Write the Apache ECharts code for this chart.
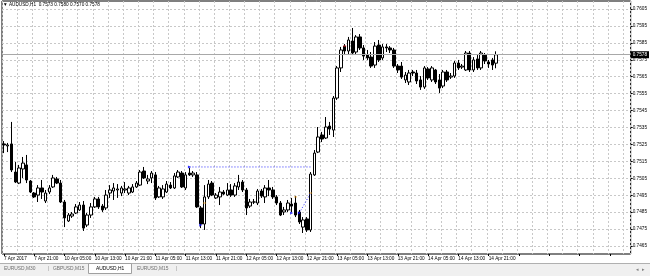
<!DOCTYPE html>
<html><head><meta charset="utf-8">
<script src="https://cdn.jsdelivr.net/npm/echarts@6/dist/echarts.min.js"></script>
<style>html,body{margin:0;padding:0;background:#fff;overflow:hidden}#c{width:650px;height:276px}</style>
</head><body><div id="c"></div>
<script>
const symbolName = 'AUDUSD,H1';
const headerValues = ['0.7573', '0.7580', '0.7570', '0.7578'];
const timeTickLabels = ['7 Apr 2017','7 Apr 21:00','10 Apr 05:00','10 Apr 13:00','10 Apr 21:00','11 Apr 05:00','11 Apr 13:00','11 Apr 21:00','12 Apr 05:00','12 Apr 13:00','12 Apr 21:00','13 Apr 05:00','13 Apr 13:00','13 Apr 21:00','14 Apr 05:00','14 Apr 13:00','14 Apr 21:00'];
const priceTicks = [0.7465,0.7475,0.7485,0.7495,0.7505,0.7515,0.7525,0.7535,0.7545,0.7555,0.7565,0.7575,0.7585,0.7595,0.7605];
const bidPrice = 0.7578;
const tabNames = ['EURUSD,M30','GBPUSD,M15','AUDUSD,H1','EURUSD,M15'];
const activeTab = 'AUDUSD,H1';

const opens = [0.75253,0.75241,0.75253,0.75087,0.75022,0.75105,0.75129,0.75034,0.74963,0.74951,
0.74993,0.74916,0.74969,0.74999,0.75046,0.75022,0.74910,0.74798,0.74827,0.74845,
0.74863,0.74892,0.74774,0.74833,0.74881,0.74928,0.74886,0.74875,0.74963,0.74975,
0.74981,0.74963,0.74981,0.74963,0.74969,0.74999,0.75010,0.75093,0.75034,0.75052,
0.75070,0.74940,0.74940,0.74969,0.75010,0.74993,0.75058,0.75081,0.74993,0.75081,
0.75070,0.75070,0.74875,0.74780,0.74940,0.75022,0.74934,0.74940,0.74969,0.74951,
0.74981,0.74951,0.74999,0.75028,0.74981,0.74886,0.74910,0.74904,0.74975,0.74940,
0.74993,0.74981,0.74940,0.74904,0.74851,0.74863,0.74898,0.74904,0.74851,0.74762,
0.74810,0.74745,0.75070,0.75205,0.75306,0.75288,0.75359,0.75335,0.75524,0.75702,
0.75831,0.75802,0.75861,0.75796,0.75885,0.75820,0.75778,0.75766,0.75719,0.75837,
0.75761,0.75826,0.75820,0.75808,0.75713,0.75713,0.75631,0.75619,0.75678,0.75672,
0.75631,0.75589,0.75696,0.75631,0.75690,0.75631,0.75595,0.75678,0.75648,0.75654,
0.75731,0.75707,0.75690,0.75790,0.75690,0.75755,0.75702,0.75778,0.75737,0.75749,
0.7573];
const highs = [0.75270,0.75259,0.75383,0.75146,0.75129,0.75176,0.75188,0.75040,0.74969,0.75010,
0.75040,0.74981,0.75010,0.75070,0.75058,0.75040,0.74922,0.74845,0.74851,0.74898,
0.74910,0.74916,0.74845,0.74904,0.74940,0.74940,0.74898,0.74981,0.75010,0.75022,
0.75016,0.75005,0.75028,0.75005,0.75016,0.75034,0.75099,0.75117,0.75070,0.75093,
0.75087,0.75005,0.75010,0.75034,0.75028,0.75081,0.75099,0.75093,0.75087,0.75111,
0.75093,0.75087,0.74886,0.75010,0.75040,0.75034,0.74963,0.74999,0.74981,0.75022,
0.75016,0.75022,0.75070,0.75040,0.74993,0.74928,0.74928,0.74987,0.74987,0.75010,
0.75040,0.74999,0.74951,0.74916,0.74881,0.74922,0.74934,0.74945,0.74863,0.74821,
0.74821,0.75087,0.75217,0.75353,0.75324,0.75412,0.75383,0.75536,0.75713,0.75826,
0.75843,0.75885,0.75938,0.75896,0.75902,0.75837,0.75808,0.75796,0.75855,0.75867,
0.75843,0.75843,0.75831,0.75820,0.75725,0.75737,0.75678,0.75690,0.75690,0.75690,
0.75654,0.75713,0.75707,0.75713,0.75696,0.75666,0.75690,0.75690,0.75672,0.75743,
0.75749,0.75725,0.75802,0.75802,0.75766,0.75778,0.75802,0.75790,0.75749,0.75761,
0.7580];
const lows = [0.75199,0.75205,0.75087,0.75022,0.75016,0.75052,0.75022,0.74963,0.74934,0.74910,
0.74928,0.74904,0.74957,0.74993,0.75016,0.74904,0.74762,0.74792,0.74816,0.74839,
0.74857,0.74739,0.74762,0.74816,0.74875,0.74869,0.74851,0.74863,0.74934,0.74922,
0.74934,0.74945,0.74963,0.74951,0.74963,0.74993,0.75005,0.75046,0.75016,0.75022,
0.74922,0.74934,0.74928,0.74963,0.74987,0.74987,0.75052,0.74993,0.74981,0.75064,
0.75058,0.74875,0.74756,0.74745,0.74928,0.74945,0.74928,0.74892,0.74951,0.74945,
0.74940,0.74940,0.74981,0.74969,0.74833,0.74875,0.74898,0.74892,0.74934,0.74904,
0.74945,0.74928,0.74892,0.74827,0.74833,0.74851,0.74851,0.74821,0.74780,0.74727,
0.74733,0.74733,0.75064,0.75199,0.75264,0.75282,0.75306,0.75294,0.75513,0.75678,
0.75778,0.75784,0.75778,0.75784,0.75808,0.75749,0.75749,0.75702,0.75702,0.75737,
0.75749,0.75796,0.75790,0.75702,0.75672,0.75637,0.75613,0.75601,0.75654,0.75607,
0.75572,0.75578,0.75631,0.75619,0.75607,0.75554,0.75583,0.75619,0.75637,0.75643,
0.75690,0.75696,0.75684,0.75678,0.75678,0.75690,0.75690,0.75725,0.75702,0.75690,
0.7570];
const closes = [0.75247,0.75247,0.75099,0.75028,0.75111,0.75140,0.75040,0.74969,0.74940,0.74993,
0.74969,0.74963,0.74993,0.75052,0.75022,0.74910,0.74816,0.74833,0.74839,0.74881,
0.74892,0.74756,0.74833,0.74881,0.74928,0.74881,0.74863,0.74951,0.74981,0.74993,
0.74987,0.74993,0.74987,0.74993,0.74999,0.75022,0.75087,0.75052,0.75046,0.75081,
0.74934,0.74993,0.74987,0.75016,0.74993,0.75064,0.75087,0.74999,0.75070,0.75070,
0.75081,0.74881,0.74780,0.74940,0.75016,0.74951,0.74951,0.74969,0.74957,0.74981,
0.74951,0.75005,0.75028,0.74981,0.74875,0.74910,0.74910,0.74975,0.74945,0.74993,
0.74981,0.74940,0.74904,0.74833,0.74863,0.74904,0.74886,0.74833,0.74792,0.74804,
0.74745,0.75075,0.75199,0.75294,0.75282,0.75353,0.75341,0.75524,0.75702,0.75808,
0.75802,0.75867,0.75790,0.75885,0.75820,0.75772,0.75761,0.75713,0.75831,0.75749,
0.75826,0.75820,0.75808,0.75713,0.75690,0.75648,0.75660,0.75672,0.75672,0.75625,
0.75589,0.75702,0.75643,0.75702,0.75619,0.75583,0.75678,0.75631,0.75654,0.75731,
0.75702,0.75713,0.75790,0.75690,0.75749,0.75702,0.75790,0.75743,0.75725,0.75719,
0.7578];

// trade history objects drawn on the chart: [bar index, price]
const tradeLineA = [[49, 0.75117], [81, 0.75117]];
const tradeLineB = [[78, 0.74845], [81, 0.74963]];
const buyArrows = [[49, 0.75117], [52, 0.74774], [76, 0.74845], [78, 0.74845]];
const closeMarks = [[53, 0.74904], [77, 0.74940], [81, 0.74963]];
const slMarks = [[90, 0.75831]];

const chartShiftBars = 35;
const totalBars = opens.length + chartShiftBars;
const cats = [];
for (let i = 0; i < totalBars; i++) cats.push(String(i));
const candles = opens.map((o, i) => [o, closes[i], lows[i], highs[i]]);

const chart = echarts.init(document.getElementById('c'), null, {renderer: 'canvas'});
const F = '"Liberation Sans", Arial, sans-serif';
const FS = 4.7;
const gridLine = {color: '#c8c8c8', type: [2, 2], width: 1};

const tabX = [4, 53, 96, 137];
const graphics = [
  {type: 'text', x: 3, y: 2, style: {text: '\u25BC ' + symbolName + '  ' + headerValues.join(' '), font: FS + 'px ' + F, fill: '#000'}, z: 100},
  {type: 'rect', shape: {x: -1, y: 263.5, width: 652, height: 14}, style: {fill: '#f0f0f0', stroke: '#b0b0b0', lineWidth: 1}, z: 90},
  {type: 'rect', shape: {x: 88.5, y: 263.5, width: 43, height: 10}, style: {fill: '#fff', stroke: '#a0a0a0', lineWidth: 1}, z: 91},
  {type: 'text', x: 636, y: 267, style: {text: '\u25C2  \u25B8', font: FS + 'px ' + F, fill: '#808080'}, z: 92}
];
tabNames.forEach((t, k) => {
  graphics.push({type: 'text', x: tabX[k], y: 266.5, style: {text: t, font: '4.9px ' + F, fill: t === activeTab ? '#000' : '#707070'}, z: 92});
});
graphics.push({type: 'text', x: 48, y: 266, style: {text: '|', font: '5px ' + F, fill: '#909090'}, z: 92});
graphics.push({type: 'text', x: 176, y: 266, style: {text: '|', font: '5px ' + F, fill: '#909090'}, z: 92});

chart.setOption({
  animation: false,
  backgroundColor: '#fff',
  grid: {left: 2, top: 1, width: 629, height: 253, show: true, borderColor: '#000', borderWidth: 1, backgroundColor: '#fff'},
  xAxis: {
    type: 'category', data: cats, boundaryGap: true,
    axisLine: {show: false},
    axisTick: {show: true, interval: 7, alignWithLabel: true, length: 2, lineStyle: {color: '#000'}},
    axisLabel: {interval: 7, align: 'left', fontSize: FS, fontFamily: F, color: '#000', margin: 2,
      formatter: (v, idx) => (idx % 8 === 0 && timeTickLabels[idx / 8]) ? timeTickLabels[idx / 8] : ''},
    splitLine: {show: true, interval: 3, lineStyle: gridLine}
  },
  yAxis: {
    type: 'value', position: 'right', min: 0.746029, max: 0.760973,
    axisLine: {show: false},
    axisTick: {show: true, customValues: priceTicks, length: 2, lineStyle: {color: '#000'}},
    axisLabel: {customValues: priceTicks, formatter: v => v.toFixed(4), fontSize: FS, fontFamily: F, color: '#000', margin: 2},
    splitLine: {show: true, lineStyle: gridLine}
  },
  graphic: graphics,
  series: [
    {
      type: 'candlestick', data: candles, barWidth: 3,
      itemStyle: {color: '#fff', color0: '#000', borderColor: '#000', borderColor0: '#000', borderWidth: 1}
    },
    {type: 'line', data: tradeLineA, symbol: 'none', lineStyle: {color: '#2a2aff', type: [1, 2], width: 1}, z: 3,
      markLine: {
        silent: true, symbol: 'none', precision: 5,
        lineStyle: {color: '#a8a8a8', type: 'solid', width: 1},
        label: {position: 'end', formatter: bidPrice.toFixed(4), backgroundColor: '#000', color: '#fff', fontSize: FS, fontFamily: F, padding: [1, 2], distance: 0},
        data: [{yAxis: bidPrice}]
      }
    },
    {type: 'line', data: tradeLineB, symbol: 'none', lineStyle: {color: '#2a2aff', type: [1, 2], width: 1}, z: 3},
    {type: 'scatter', data: buyArrows, symbol: 'triangle', symbolRotate: -90, symbolSize: 3, itemStyle: {color: '#0000ff'}, z: 4},
    {type: 'scatter', data: closeMarks, symbol: 'rect', symbolSize: [3, 1], itemStyle: {color: '#f0a020'}, z: 4},
    {type: 'scatter', data: slMarks, symbol: 'rect', symbolSize: [3, 1], itemStyle: {color: '#ff2020'}, z: 4}
  ]
});
</script></body></html>
